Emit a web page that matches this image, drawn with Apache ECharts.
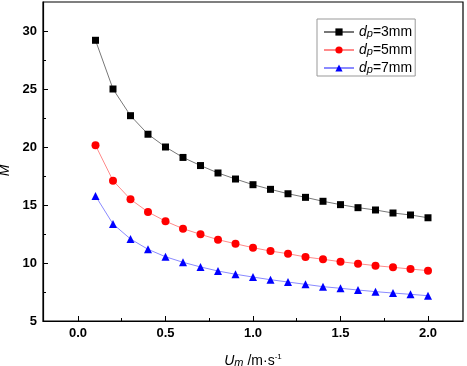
<!DOCTYPE html>
<html>
<head>
<meta charset="utf-8">
<script src="https://cdn.jsdelivr.net/npm/echarts@6/dist/echarts.min.js"></script>
<style>
  html, body { margin: 0; padding: 0; background: #fff; }
  #chart { width: 467px; height: 366px; }
</style>
</head>
<body>
<div id="chart"></div>
<script>
// flow velocity Um (m/s)
const velocity = [0.1, 0.2, 0.3, 0.4, 0.5, 0.6, 0.7, 0.8, 0.9, 1.0,
  1.1, 1.2, 1.3, 1.4, 1.5, 1.6, 1.7, 1.8, 1.9, 2.0];

const m3mm = [29.2, 25.0, 22.7, 21.1, 20.0, 19.1, 18.4, 17.76, 17.24, 16.75,
  16.35, 15.97, 15.66, 15.32, 15.03, 14.77, 14.57, 14.31, 14.14, 13.9];
const m5mm = [20.15, 17.1, 15.49, 14.4, 13.6, 12.96, 12.47, 12.01, 11.66, 11.32,
  11.03, 10.8, 10.52, 10.32, 10.11, 9.94, 9.77, 9.63, 9.48, 9.34];
const m7mm = [15.78, 13.36, 12.07, 11.18, 10.54, 10.06, 9.66, 9.31, 9.03, 8.79,
  8.56, 8.36, 8.16, 7.96, 7.82, 7.67, 7.53, 7.41, 7.3, 7.18];

const seriesNames = ['dp=3mm', 'dp=5mm', 'dp=7mm'];

const xMajorTicks = [0, 0.5, 1.0, 1.5, 2.0];
const xMinorTicks = [0.25, 0.75, 1.25, 1.75];
const yMajorTicks = [5, 10, 15, 20, 25, 30];
const yMinorTicks = [7.5, 12.5, 17.5, 22.5, 27.5];

const tickFont = {
  fontFamily: 'Liberation Sans, Arial',
  fontWeight: 'bold',
  fontSize: 13,
  color: '#000'
};

function pair(xs, ys) {
  return xs.map((x, i) => [x, ys[i]]);
}

const xRange = { min: -0.2, max: 2.2 };
const yRange = { min: 5, max: 32.5 };

const chart = echarts.init(document.getElementById('chart'), null, { renderer: 'canvas' });

const options = {
  animation: false,
  grid: {
    left: 43, right: 4, top: 2, bottom: 45,
    outerBoundsMode: 'none',
    containLabel: false,
    show: true,
    borderColor: '#000',
    borderWidth: 1.2,
    backgroundColor: 'transparent'
  },
  legend: {
    orient: 'vertical',
    left: 317,
    top: 19,
    padding: [6, 3, 1, 6],
    itemGap: 4,
    itemWidth: 30,
    itemHeight: 9,
    borderColor: '#999',
    borderWidth: 1,
    data: seriesNames,
    formatter: name => {
      const rest = name.slice(2);
      return '{i|d}{s|p}{n|' + rest + '}';
    },
    textStyle: {
      fontFamily: 'Liberation Sans, Arial',
      fontSize: 14,
      color: '#000',
      lineHeight: 14,
      rich: {
        i: { fontStyle: 'italic', fontSize: 14, fontFamily: 'Liberation Sans, Arial' },
        s: { fontStyle: 'italic', fontSize: 11, fontFamily: 'Liberation Sans, Arial', verticalAlign: 'bottom', padding: [3, 0, 0, 0] },
        n: { fontSize: 14, fontFamily: 'Liberation Sans, Arial' }
      }
    }
  },
  xAxis: [
    {
      type: 'value',
      ...xRange,
      name: '{i|U}{s|m}{n| /m·s}{sup|-1}',
      nameLocation: 'middle',
      nameGap: 32,
      nameTextStyle: {
        fontFamily: 'Liberation Sans, Arial',
        fontSize: 14,
        color: '#000',
        rich: {
          i: { fontStyle: 'italic', fontSize: 14 },
          s: { fontStyle: 'italic', fontSize: 11, padding: [3, 0, 0, 0] },
          n: { fontSize: 14 },
          sup: { fontSize: 8, padding: [0, 0, 9, 0] }
        }
      },
      axisLine: { show: true, onZero: false, lineStyle: { color: '#000', width: 1.2 } },
      axisTick: { show: true, inside: true, length: 5, customValues: xMajorTicks, lineStyle: { color: '#000' } },
      axisLabel: { ...tickFont, margin: 6, customValues: xMajorTicks, formatter: v => v.toFixed(1) },
      splitLine: { show: false }
    },
    {
      type: 'value',
      ...xRange,
      position: 'bottom',
      axisLine: { show: false, onZero: false },
      axisTick: { show: true, inside: true, length: 3, customValues: xMinorTicks, lineStyle: { color: '#000' } },
      axisLabel: { show: false },
      splitLine: { show: false }
    }
  ],
  yAxis: [
    {
      type: 'value',
      ...yRange,
      name: 'M',
      nameLocation: 'middle',
      nameGap: 23,
      nameTextStyle: {
        fontFamily: 'Liberation Sans, Arial',
        fontStyle: 'italic',
        fontSize: 14,
        color: '#000',
        padding: [0, 18, 0, 0]
      },
      axisLine: { show: true, onZero: false, lineStyle: { color: '#000', width: 1.2 } },
      axisTick: { show: true, inside: true, length: 5, customValues: yMajorTicks, lineStyle: { color: '#000' } },
      axisLabel: { ...tickFont, margin: 6, customValues: yMajorTicks },
      splitLine: { show: false }
    },
    {
      type: 'value',
      ...yRange,
      position: 'left',
      axisLine: { show: false, onZero: false },
      axisTick: { show: true, inside: true, length: 3, customValues: yMinorTicks, lineStyle: { color: '#000' } },
      axisLabel: { show: false },
      splitLine: { show: false }
    }
  ],
  series: [
    {
      name: seriesNames[0],
      type: 'line',
      data: pair(velocity, m3mm),
      symbol: 'rect',
      symbolSize: 7,
      itemStyle: { color: '#000' },
      lineStyle: { color: '#777', width: 1 }
    },
    {
      name: seriesNames[1],
      type: 'line',
      data: pair(velocity, m5mm),
      symbol: 'circle',
      symbolSize: 8,
      itemStyle: { color: '#ff0000' },
      lineStyle: { color: '#ff8a8a', width: 1 }
    },
    {
      name: seriesNames[2],
      type: 'line',
      data: pair(velocity, m7mm),
      symbol: 'triangle',
      symbolSize: 8,
      itemStyle: { color: '#0000ff' },
      lineStyle: { color: '#8a8aff', width: 1 }
    }
  ]
};

chart.setOption(options);
</script>
</body>
</html>
